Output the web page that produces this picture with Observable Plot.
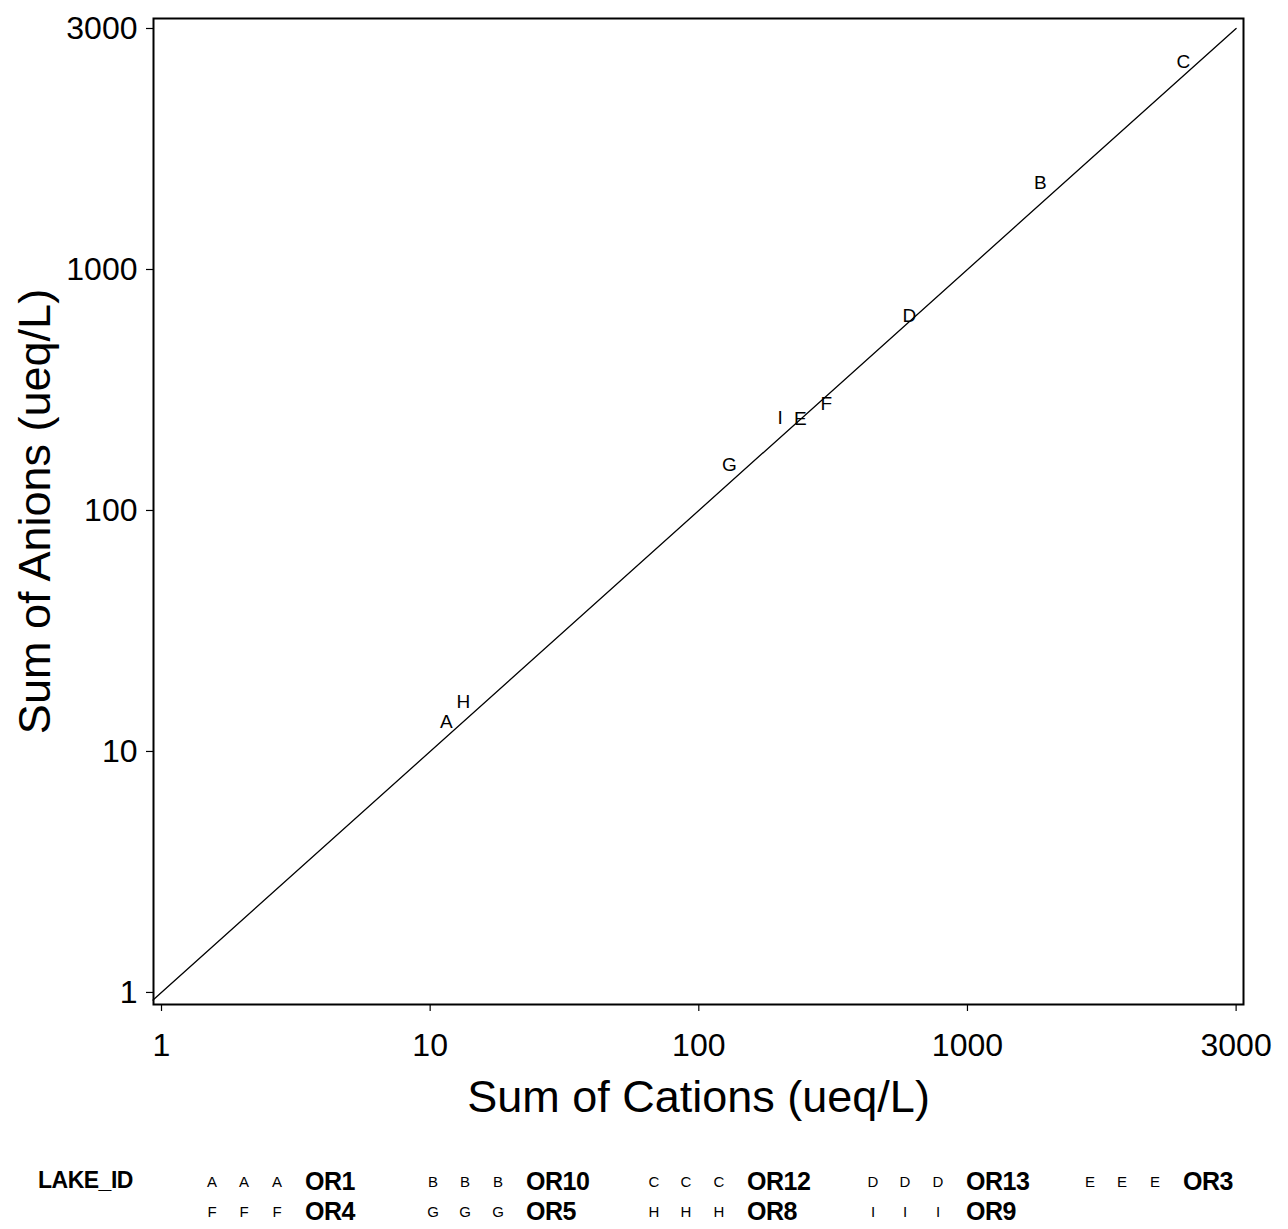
<!DOCTYPE html>
<html>
<head>
<meta charset="utf-8">
<script src="https://cdn.jsdelivr.net/npm/d3@7"></script>
<script src="https://cdn.jsdelivr.net/npm/@observablehq/plot@0.6"></script>
<style>
  html, body { margin: 0; padding: 0; background: #fff; }
  #chart { width: 1288px; height: 1150px; }
  #legend { position: relative; width: 1288px; height: 79px; font-family: "Liberation Sans", Arial, sans-serif; color: #000; }
  #legend span { position: absolute; white-space: nowrap; line-height: 1; transform: translateY(-50%); }
  #legend span.sym { font-size: 15px; transform: translate(-50%, -50%); }
  .lab { font-size: 25px; font-weight: 600; letter-spacing: -0.5px; }
  .ttl { font-size: 23px; font-weight: 600; letter-spacing: -0.5px; }
</style>
</head>
<body>
<div id="chart"></div>
<div id="legend"></div>
<script>
// ---- data ----
const lakeIds   = ["OR1", "OR10", "OR12", "OR13", "OR3", "OR4", "OR5", "OR8", "OR9"];
const symbols   = ["A", "B", "C", "D", "E", "F", "G", "H", "I"];
const cations   = [11.5, 1347, 2417, 608, 239, 298, 130, 13.3, 201];
const anions    = [13.3, 1487, 2572, 644, 241, 278, 155, 16.0, 243];
const tickVals  = [1, 10, 100, 1000, 3000];
const tickLabels = ["1", "10", "100", "1000", "3000"];
const lineEnds  = [0.93, 3000];
const xTitle = "Sum of Cations (ueq/L)";
const yTitle = "Sum of Anions (ueq/L)";
const legendTitle = "LAKE_ID";

// The original axes give the 1000–3000 interval the length of a full decade.
const disp = v => v <= 1000 ? v : 1000 * Math.pow(10, Math.log10(v / 1000) / Math.log10(3));

const points = symbols.map((s, i) => ({sym: s, lake: lakeIds[i], x: disp(cations[i]), y: disp(anions[i])}));
const diag = lineEnds.map(v => ({x: disp(v), y: disp(v)}));
const tickDisp = tickVals.map(disp);
const fmt = v => tickLabels[tickDisp.findIndex(t => Math.abs(t - v) / v < 1e-6)];

const font = "Liberation Sans, Arial, sans-serif";

const chart = Plot.plot({
  width: 1288,
  height: 1150,
  marginLeft: 153,
  marginRight: 45,
  marginTop: 18,
  marginBottom: 146,
  style: {fontFamily: font, color: "#000", background: "#fff"},
  x: {type: "log", domain: [Math.pow(10, -0.0298), Math.pow(10, 4.0275)]},
  y: {type: "log", domain: [Math.pow(10, -0.05), Math.pow(10, 4.0415)]},
  marks: [
    Plot.line(diag, {x: "x", y: "y", stroke: "#000", strokeWidth: 1.3}),
    Plot.text(points, {x: "x", y: "y", text: "sym", fontSize: 19, fill: "#000"}),
    Plot.axisX(tickDisp, {tickFormat: fmt, tickSize: 7, tickPadding: 22, fontSize: 32, label: null, strokeWidth: 1.2}),
    Plot.axisY(tickDisp, {tickFormat: fmt, tickSize: 7, tickPadding: 9, fontSize: 32, label: null, strokeWidth: 1.2}),
    Plot.frame({stroke: "#000", strokeWidth: 2}),
    Plot.text([xTitle], {frameAnchor: "bottom", lineAnchor: "middle", textAnchor: "middle", dy: 93, fontSize: 45, fill: "#000"}),
    Plot.text([yTitle], {frameAnchor: "left", lineAnchor: "middle", textAnchor: "middle", dx: -118, rotate: -90, fontSize: 45, fill: "#000"})
  ]
});
document.getElementById("chart").appendChild(chart);

// ---- legend ----
const legend = document.getElementById("legend");
const colX = [212, 433, 654, 873, 1090];
const rowY = [31, 61];
function add(cls, text, x, y) {
  const s = document.createElement("span");
  s.className = cls; s.textContent = text;
  s.style.left = x + "px"; s.style.top = y + "px";
  legend.appendChild(s);
}
add("ttl", legendTitle, 38, rowY[0] - 1);
lakeIds.forEach((id, i) => {
  const r = i < 5 ? 0 : 1, c = i < 5 ? i : i - 5;
  const x0 = colX[c], y0 = rowY[r];
  [0, 32, 65].forEach(dx => add("sym", symbols[i], x0 + dx, y0));
  add("lab", id, x0 + 93, y0);
});
</script>
</body>
</html>
